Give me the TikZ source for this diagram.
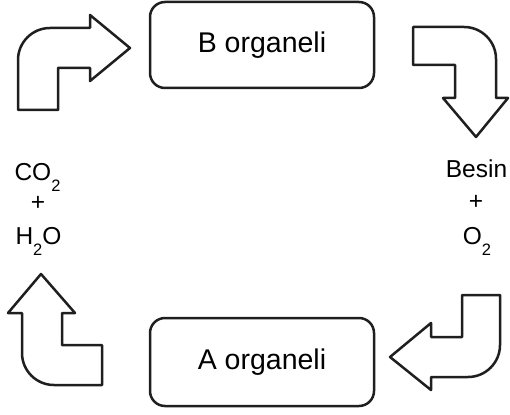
\documentclass[tikz,border=0pt]{standalone}
\usepackage{fontspec}
\setmainfont{Liberation Sans}
\newcommand\chemsub[1]{\raisebox{-11pt}{\fontsize{16.5}{16.5}\selectfont #1}}
\tikzset{
  shapeline/.style={draw=black!88, line width=2.5pt, line join=round, fill=white},
  organbox/.style={shapeline, rounded corners=15pt, minimum width=224pt, inner sep=0pt,
    font=\fontsize{28.5}{28.5}\selectfont},
  chemlabel/.style={inner sep=0pt, anchor=base, font=\fontsize{24.5}{24.5}\selectfont}
}
\begin{document}
\begin{tikzpicture}[x=1pt,y=-1pt]
\useasboundingbox (0,0) rectangle (510,414);
% boxes
\node[organbox, minimum height=86pt] (B) at (262,45) {B organeli};
\node[organbox, minimum height=88pt] (A) at (262,362) {A organeli};
% left labels
\node[chemlabel] (co2) at (37.5,180) {CO\chemsub{2}};
\node[chemlabel] (plusL) at (38,210.5) {+};
\node[chemlabel] (h2o) at (38.5,244) {H\chemsub{2}O};
% right labels
\node[chemlabel] (besin) at (476.5,177) {Besin};
\node[chemlabel] (plusR) at (476,209.5) {+};
\node[chemlabel] (o2) at (477,244) {O\chemsub{2}};
% top-left bent arrow
\draw[shapeline] (18,110) -- (18,60) .. controls (18,42.3) and (32.3,28) .. (50,28)
  -- (90,28) -- (90,15) -- (130,48) -- (90,81) -- (90,68) -- (58,68) -- (58,110) -- cycle;
% top-right bent arrow
\draw[shapeline] (413,27) -- (464,27) .. controls (481.7,27) and (496,41.3) .. (496,59)
  -- (496,98) -- (508,98) -- (476,137) -- (443,98) -- (455,98) -- (455,65) -- (413,65) -- cycle;
% bottom-right bent arrow
\draw[shapeline] (462,295) -- (500,295) -- (500,345) .. controls (500,362.7) and (485.7,377) .. (468,377)
  -- (431,377) -- (431,390) -- (390,357) -- (431,323) -- (431,337) -- (462,337) -- cycle;
% bottom-left bent arrow
\draw[shapeline] (41,274) -- (75,313) -- (62,313) -- (62,345) -- (102,345) -- (102,385)
  -- (54,385) .. controls (36.3,385) and (22,370.7) .. (22,353) -- (22,313) -- (8,313) -- cycle;
\end{tikzpicture}
\end{document}
